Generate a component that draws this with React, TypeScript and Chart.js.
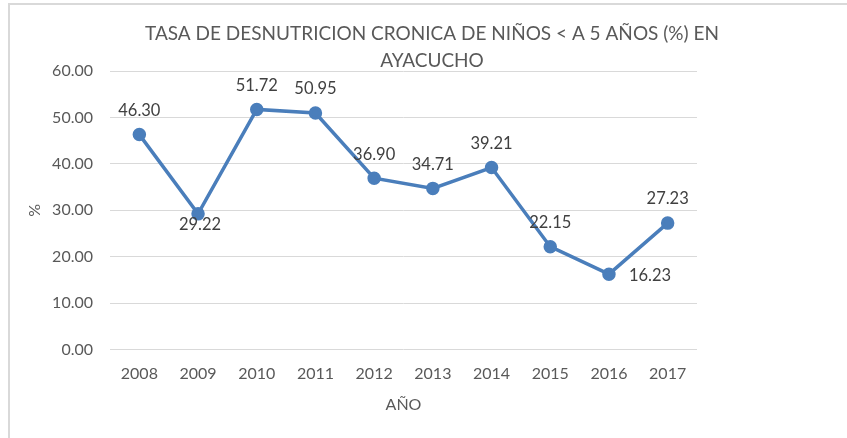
import React, { useEffect, useRef } from "react";
import { Chart, registerables } from "chart.js";

Chart.register(...registerables);

const years = ["2008", "2009", "2010", "2011", "2012", "2013", "2014", "2015", "2016", "2017"];
const tasa = [46.3, 29.22, 51.72, 50.95, 36.9, 34.71, 39.21, 22.15, 16.23, 27.23];
const labelPlacement = ["above", "below", "above", "above", "above", "above", "above", "above", "right", "above"];
const titleLines = ["TASA DE DESNUTRICION CRONICA DE NIÑOS < A 5 AÑOS (%) EN", "AYACUCHO"];

const FONT = "Lato, 'Open Sans', sans-serif";
const LINE = "#4A7EBB";

const dataLabels = {
  id: "dataLabels",
  afterDatasetsDraw(chart: any) {
    const ctx = chart.ctx;
    const meta = chart.getDatasetMeta(0);
    const ds = chart.data.datasets[0];
    ctx.save();
    ctx.font = `16.5px ${FONT}`;
    ctx.fillStyle = "#404040";
    ctx.textBaseline = "middle";
    meta.data.forEach((pt: any, i: number) => {
      const v = ds.data[i] as number;
      const txt = v.toFixed(2);
      const pos = labelPlacement[i];
      let x = pt.x;
      let y = pt.y;
      if (pos === "above") {
        ctx.textAlign = "center";
        y -= 24;
      } else if (pos === "below") {
        ctx.textAlign = "center";
        y += 11;
        x += 2;
      } else {
        ctx.textAlign = "left";
        x += 20;
        y += 2;
      }
      ctx.fillText(txt, x, y);
    });
    ctx.restore();
  },
};

export default function App() {
  const ref = useRef<HTMLCanvasElement>(null);
  useEffect(() => {
    if (!ref.current) return;
    const chart = new Chart(ref.current, {
      type: "line",
      data: {
        labels: years,
        datasets: [
          {
            data: tasa,
            borderColor: LINE,
            backgroundColor: LINE,
            borderWidth: 3.5,
            pointRadius: 5,
            pointBackgroundColor: LINE,
            pointBorderColor: LINE,
            tension: 0,
          },
        ],
      },
      options: {
        animation: false,
        responsive: false,
        devicePixelRatio: 1,
        layout: { padding: { left: 0, right: 0, top: 0, bottom: 0 } },
        plugins: {
          legend: { display: false },
          tooltip: { enabled: false },
          title: {
            display: true,
            text: titleLines,
            color: "#595959",
            font: { family: FONT, size: 19, weight: "normal", lineHeight: 27 / 19 },
            padding: { top: 15, bottom: -3 },
          },
        },
        scales: {
          x: {
            type: "category",
            offset: true,
            grid: { display: false },
            border: { display: false },
            ticks: { color: "#595959", font: { family: FONT, size: 16 }, padding: 7 },
            title: {
              display: true,
              text: "AÑO",
              color: "#595959",
              font: { family: FONT, size: 16 },
              padding: { top: 0, bottom: 24 },
            },
            afterFit: (s: any) => {
              s.height = 88.5;
            },
          },
          y: {
            min: 0,
            max: 60,
            grid: { color: "#d9d9d9", lineWidth: 1, drawTicks: false },
            border: { display: false },
            ticks: {
              stepSize: 10,
              color: "#595959",
              font: { family: FONT, size: 16 },
              padding: 17,
              callback: (v: any) => Number(v).toFixed(2),
            },
            title: {
              display: true,
              text: "%",
              color: "#595959",
              font: { family: FONT, size: 16 },
              padding: { top: 15, bottom: 0 },
            },
            afterFit: (s: any) => {
              s.width = 100;
            },
          },
          y2: {
            position: "right",
            display: true,
            min: 0,
            max: 60,
            grid: { display: false, drawTicks: false },
            border: { display: false },
            ticks: { display: false },
            afterFit: (s: any) => {
              s.width = 157;
            },
          },
        },
      },
      plugins: [dataLabels],
    });
    return () => chart.destroy();
  }, []);

  return (
    <div style={{ position: "fixed", left: 0, top: 0, width: "100vw", height: "100vh", overflow: "hidden", background: "#fff" }}>
      <div
        style={{
          position: "absolute",
          left: 8,
          top: 3,
          borderLeft: "2px solid #d9d9d9",
          borderTop: "2px solid #d9d9d9",
          width: 844,
          height: 433,
        }}
      >
        <canvas ref={ref} width={844} height={433} style={{ display: "block" }} />
      </div>
    </div>
  );
}
